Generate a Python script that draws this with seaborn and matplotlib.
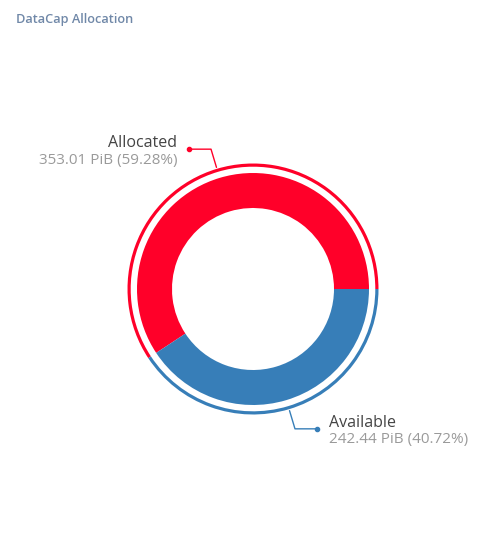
import numpy as np
import seaborn as sns
import matplotlib.pyplot as plt

categories = ["Allocated", "Available"]
values_pib = [353.01, 242.44]
shares = [59.28, 40.72]
colors = ["#ff0029", "#377eb8"]

sns.set_theme(style="white")
plt.rcParams['font.family'] = ['Open Sans', 'DejaVu Sans']

W, H = 502, 544
fig = plt.figure(figsize=(W / 100, H / 100), dpi=100)
ax = fig.add_axes([0, 0, 1, 1])

cx, cy = 253, H - 289
r_out, r_in = 116, 81

# main donut
ax.pie(values_pib, colors=colors, startangle=0, counterclock=True,
       radius=r_out, center=(cx, cy),
       wedgeprops=dict(width=r_out - r_in, linewidth=0))
# thin outer ring
ax.pie(values_pib, colors=colors, startangle=0, counterclock=True,
       radius=r_out + 9.5, center=(cx, cy),
       wedgeprops=dict(width=3.2, linewidth=0))

ax.set_xlim(0, W)
ax.set_ylim(0, H)
ax.set_aspect('equal')
ax.axis('off')

# labels with connectors
total = sum(values_pib)
start = 0
for name, v, pct, col in zip(categories, values_pib, shares, colors):
    span = 360 * v / total
    mid = np.deg2rad(start + span / 2)
    start += span
    x0, y0 = cx + 127 * np.cos(mid), cy + 127 * np.sin(mid)
    x1, y1 = cx + 146 * np.cos(mid), cy + 146 * np.sin(mid)
    side = -1 if np.cos(mid) < 0 else 1
    x2 = x1 + side * 22
    ax.plot([x0, x1, x2], [y0, y1, y1], color=col, lw=1)
    ax.plot(x2, y1, 'o', color=col, ms=3)
    ha = 'right' if side < 0 else 'left'
    tx = x2 + side * 12
    ax.text(tx, y1 + 6, name, ha=ha, va='center', fontsize=11.5, color='#444444')
    ax.text(tx, y1 - 11, f"{v:.2f} PiB ({pct:.2f}%)", ha=ha, va='center',
            fontsize=11, color='#9a9a9a')

fig.text(16 / W, 1 - 19 / H, "DataCap Allocation", ha='left', va='center',
         fontsize=9.2, fontweight='semibold', color='#7088a8')

fig.savefig("out.png", dpi=100)
